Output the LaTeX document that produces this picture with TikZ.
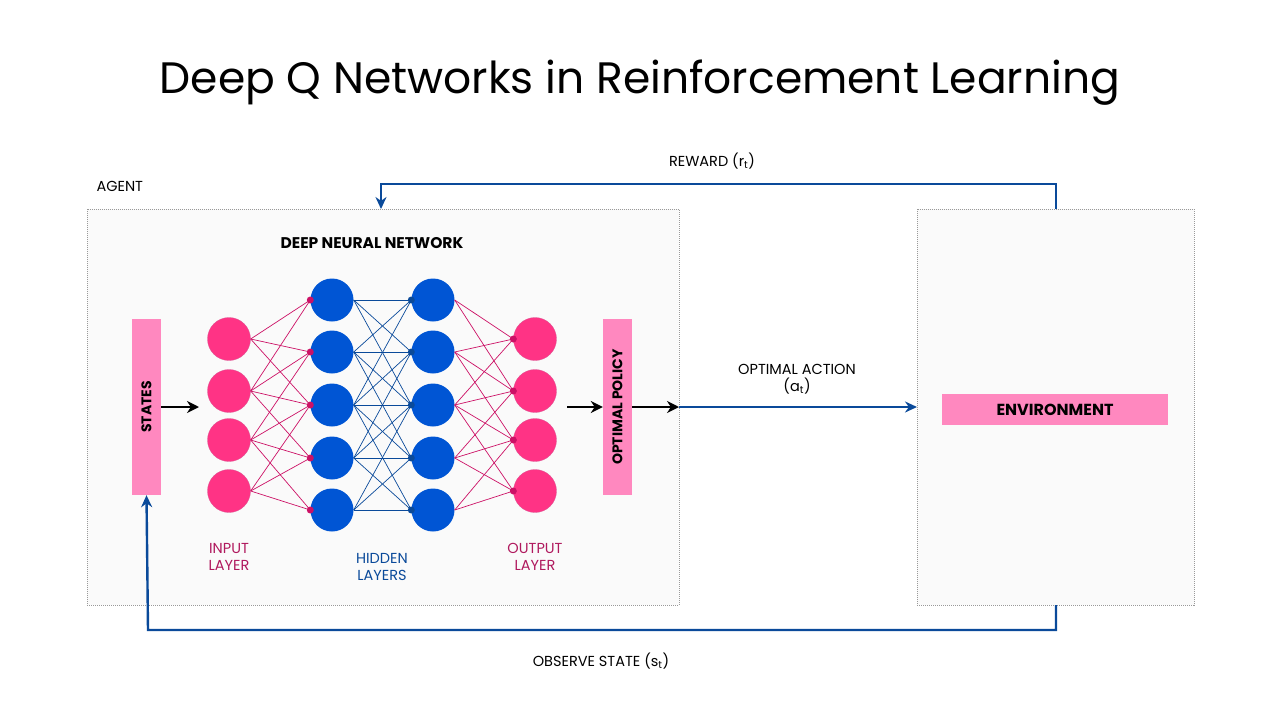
\documentclass[tikz,border=0pt]{standalone}
\usepackage{fontspec}
\setmainfont{Poppins}
\usetikzlibrary{arrows.meta}
\definecolor{pk}{HTML}{FF3385}
\definecolor{pkl}{HTML}{FF88BF}
\definecolor{pkd}{HTML}{CC1166}
\definecolor{bl}{HTML}{0055D4}
\definecolor{nb}{HTML}{0A4A9A}
\definecolor{lbl}{HTML}{B0195E}
\begin{document}
\begin{tikzpicture}[x=1pt,y=-1pt,
 box/.style={draw=gray!80,dashed,dash pattern=on 1pt off 1pt,fill=gray!4},
 bar/.style={fill=pkl,draw=none},
 pn/.style={circle,fill=pk,draw=pkd!70,line width=0.3pt,minimum size=43pt,inner sep=0},
 bn/.style={circle,fill=bl,draw=none,minimum size=43pt,inner sep=0},
 pl/.style={draw=pkd,line width=0.7pt},
 bll/.style={draw=nb,line width=0.7pt},
 flow/.style={draw=nb,line width=2.4pt,-{Stealth[length=12pt,width=11pt]}},
 blk/.style={draw=black,line width=2.4pt,-{Stealth[length=12pt,width=12pt]}},
 t/.style={font=\fontsize{14.5}{17}\selectfont,align=center}]
\useasboundingbox (0,0) rectangle (1280,720);
\fill[white] (0,0) rectangle (1280,720);
\node[font=\fontsize{44}{50}\selectfont] (title) at (640,83) {Deep Q Networks in Reinforcement Learning};
\draw[box] (87,209) rectangle (679,605);
\draw[box] (917,209) rectangle (1194,605);
\node[t,anchor=west] (agent) at (93,186) {AGENT};
\node[t,font=\fontsize{15.5}{17}\selectfont\bfseries] (dnn) at (372,243) {DEEP NEURAL NETWORK};
\node[bar,minimum width=29pt,minimum height=176pt] (states) at (146.5,407) {};
\node[rotate=90,font=\fontsize{14}{15}\selectfont\bfseries] at (states) {STATES};
\node[bar,minimum width=29pt,minimum height=176pt] (policy) at (617.5,407) {};
\node[rotate=90,font=\fontsize{14}{15}\selectfont\bfseries] at (policy) {OPTIMAL POLICY};
\node[bar,minimum width=226pt,minimum height=31pt] (env) at (1055,409.5) {};
\node[font=\fontsize{16}{18}\selectfont\bfseries] at (env) {ENVIRONMENT};
\foreach \y [count=\i] in {300,352,405,458,510}{
  \node[bn] (h\i) at (332,\y) {};
  \node[bn] (g\i) at (433,\y) {};
}
\foreach \y [count=\i] in {339,391,440,491}{
  \node[pn] (i\i) at (229,\y) {};
  \node[pn] (o\i) at (535,\y) {};
}
\foreach \a in {1,...,4}\foreach \b in {1,...,5}{
  \pgfmathtruncatemacro\d{\b-\a}
  \ifnum\d>-2 \ifnum\d<3
  \draw[pl] (i\a.east) -- (h\b.west);
  \draw[pl] (g\b.east) -- (o\a.west);
  \fi\fi
}
\foreach \a in {1,...,5}\foreach \b in {1,...,5}{
  \pgfmathtruncatemacro\d{abs(\b-\a)}
  \ifnum\d<3
  \draw[bll] (h\a.east) -- (g\b.west);
  \fi
}
\foreach \i in {1,...,5}{
  \fill[pkd] (h\i.west) circle (3.5pt);
  \fill[nb] (g\i.west) circle (3.5pt);
}
\foreach \i in {1,...,4}{\fill[pkd] (o\i.west) circle (3.5pt);}
\coordinate (s1) at (161,407); \coordinate (s2) at (199,407);
\draw[blk] (s1) -- (s2);
\coordinate (p0) at (567,407);
\draw[blk] (p0) -- (policy.west);
\coordinate (p1) at (679,407);
\draw[blk] (policy.east) -- (p1);
\draw[flow] (p1) -- (917,407) coordinate (e1);
\node[t] (act) at (797,379) {OPTIMAL ACTION\\(a\textsubscript{t})};
\coordinate (rt) at (1056,209); \coordinate (ra) at (381,209);
\draw[flow] (rt) -- (1056,184) -- (381,184) -- (ra);
\node[t] (rew) at (712,161) {REWARD (r\textsubscript{t})};
\coordinate (ob) at (1056,605);
\draw[flow] (ob) -- (1056,630) -- (148,630) -- (states.south);
\node[t] (obs) at (601,661) {OBSERVE STATE (s\textsubscript{t})};
\node[t,text=lbl] at (229,557) {INPUT\\LAYER};
\node[t,text=nb] at (382,567) {HIDDEN\\LAYERS};
\node[t,text=lbl] at (535,557) {OUTPUT\\LAYER};
\end{tikzpicture}
\end{document}
